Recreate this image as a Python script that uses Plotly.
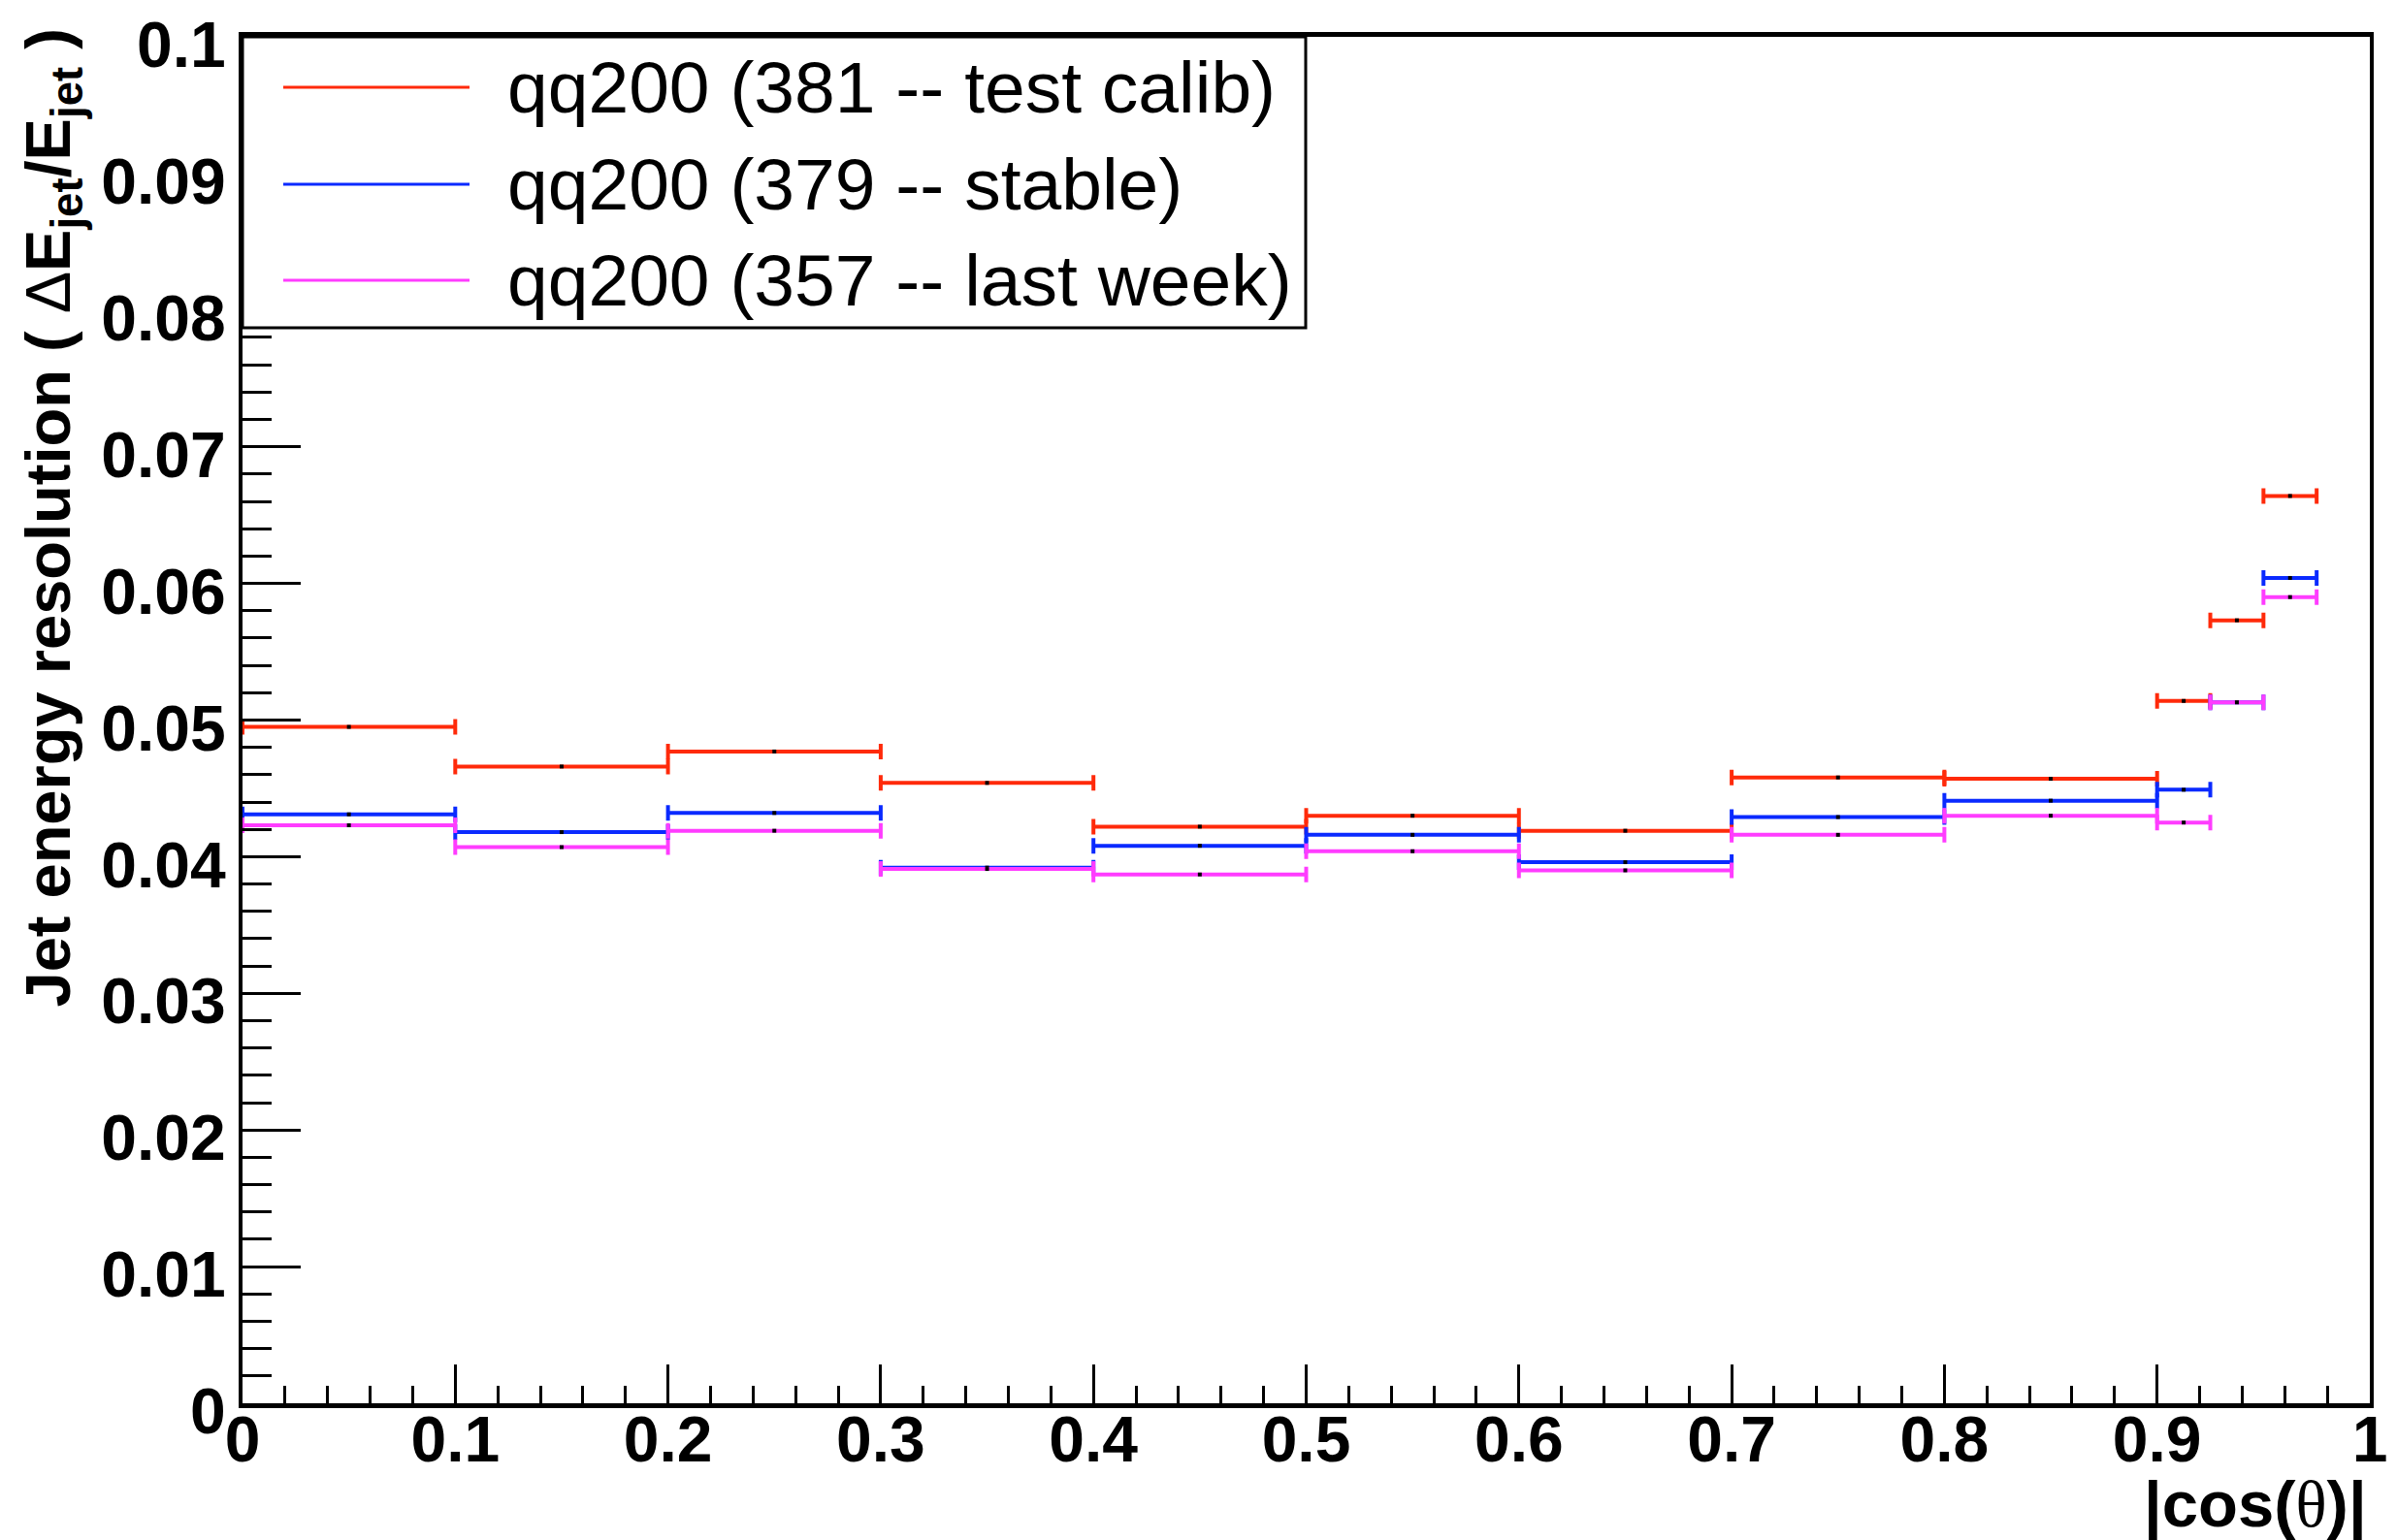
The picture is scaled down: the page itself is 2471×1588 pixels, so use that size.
import plotly.graph_objects as go

# ---- data ----
bin_lo = [0.0, 0.1, 0.2, 0.3, 0.4, 0.5, 0.6, 0.7, 0.8, 0.9, 0.925, 0.95]
bin_hi = [0.1, 0.2, 0.3, 0.4, 0.5, 0.6, 0.7, 0.8, 0.9, 0.925, 0.95, 0.975]

res_381 = [0.0495, 0.0466, 0.0477, 0.0454, 0.0422, 0.0430, 0.0419, 0.0458, 0.0457, 0.0514, 0.0573, 0.0664]
res_379 = [0.0431, 0.0418, 0.0432, 0.0392, 0.0408, 0.0416, 0.0396, 0.0429, 0.0441, 0.0449, 0.0513, 0.0604]
res_357 = [0.0423, 0.0407, 0.0419, 0.0391, 0.0387, 0.0404, 0.0390, 0.0416, 0.0430, 0.0425, 0.0513, 0.0590]

series_names = ["qq200 (381 -- test calib)", "qq200 (379 -- stable)", "qq200 (357 -- last week)"]
series_colors = ["#ff2a0a", "#0a2aff", "#ff3cff"]
series_values = [res_381, res_379, res_357]

x_tickvals = [0, 0.1, 0.2, 0.3, 0.4, 0.5, 0.6, 0.7, 0.8, 0.9, 1.0]
x_ticktext = ["0", "0.1", "0.2", "0.3", "0.4", "0.5", "0.6", "0.7", "0.8", "0.9", "1"]
y_tickvals = [0, 0.01, 0.02, 0.03, 0.04, 0.05, 0.06, 0.07, 0.08, 0.09, 0.1]
y_ticktext = ["0", "0.01", "0.02", "0.03", "0.04", "0.05", "0.06", "0.07", "0.08", "0.09", "0.1"]

x_title = "|cos(<span style='font-family:Liberation Serif;font-weight:normal'>θ</span>)|"
y_title = "Jet energy resolution ( <span style='font-weight:normal'>Δ</span>E<sub>jet</sub>/E<sub>jet</sub> )"

# ---- geometry (pixels) ----
W, H = 2471, 1588
L, R, T, B = 242, 2435, 30, 1439  # plot area edges in pixels

def px(xp):
    return (xp - L) / (R - L)

def py(yp):
    return (B - yp) / (B - T)

centers = [(a + b) / 2 for a, b in zip(bin_lo, bin_hi)]
halfw = [(b - a) / 2 for a, b in zip(bin_lo, bin_hi)]

FONT = "Liberation Sans"

fig = go.Figure()
for name, col, vals in zip(series_names, series_colors, series_values):
    fig.add_trace(go.Scatter(
        x=centers, y=vals, mode="markers", name=name,
        marker=dict(color="black", size=4, symbol="square", line=dict(width=0)),
        error_x=dict(type="data", array=halfw, visible=True, color=col, thickness=4, width=8),
        showlegend=False,
    ))

fig.update_layout(
    width=W, height=H,
    margin=dict(l=L, r=W - R, t=T, b=H - B, autoexpand=False),
    paper_bgcolor="white", plot_bgcolor="white",
    font=dict(family=FONT, color="black"),
    xaxis=dict(
        range=[0, 1], tickmode="array", tickvals=x_tickvals, ticktext=x_ticktext,
        ticks="inside", ticklen=40, tickwidth=3, ticklabelstandoff=-24,
        ticklabeloverflow="allow", automargin=False,
        tickcolor="black", showgrid=False, zeroline=False,
        showline=True, linewidth=5, linecolor="black", mirror=True,
        tickfont=dict(family=FONT, size=66, weight="bold"),
        minor=dict(dtick=0.02, tick0=0, ticks="inside", ticklen=18, tickwidth=3, tickcolor="black", showgrid=False),
    ),
    yaxis=dict(
        range=[0, 0.1], tickmode="array", tickvals=y_tickvals, ticktext=y_ticktext,
        ticks="inside", ticklen=60, tickwidth=3, ticklabeloverflow="allow", automargin=False,
        ticklabelshift=8,
        tickcolor="black", showgrid=False, zeroline=False,
        showline=True, linewidth=4, linecolor="black", mirror=True,
        tickfont=dict(family=FONT, size=66, weight="bold"),
        minor=dict(dtick=0.002, tick0=0, ticks="inside", ticklen=30, tickwidth=3, tickcolor="black", showgrid=False),
    ),
)

annotations = []
shapes = []

# axis titles
annotations.append(dict(
    text=x_title, xref="paper", yref="paper", x=px(2434), y=py(1584),
    xanchor="right", yanchor="bottom", showarrow=False,
    font=dict(family=FONT, size=67, weight="bold"),
))
annotations.append(dict(
    text=y_title, xref="paper", yref="paper", x=px(46), y=py(20),
    xanchor="center", yanchor="top", textangle=-90, showarrow=False,
    font=dict(family=FONT, size=65, weight="bold"),
))

# manual legend box
shapes.append(dict(type="rect", xref="paper", yref="paper",
                   x0=px(242), x1=px(1338), y0=py(330), y1=py(30),
                   fillcolor="white", line=dict(color="black", width=3), layer="above"))
row_y = [82, 182, 281]
for name, col, ry in zip(series_names, series_colors, row_y):
    shapes.append(dict(type="line", xref="paper", yref="paper",
                       x0=px(284), x1=px(476), y0=py(ry), y1=py(ry),
                       line=dict(color=col, width=3), layer="above"))
    annotations.append(dict(
        text=name, xref="paper", yref="paper", x=px(513), y=py(ry),
        xanchor="left", yanchor="middle", showarrow=False,
        font=dict(family=FONT, size=75, color="black"),
    ))

fig.update_layout(annotations=annotations, shapes=shapes)

fig.write_html("out.html")
